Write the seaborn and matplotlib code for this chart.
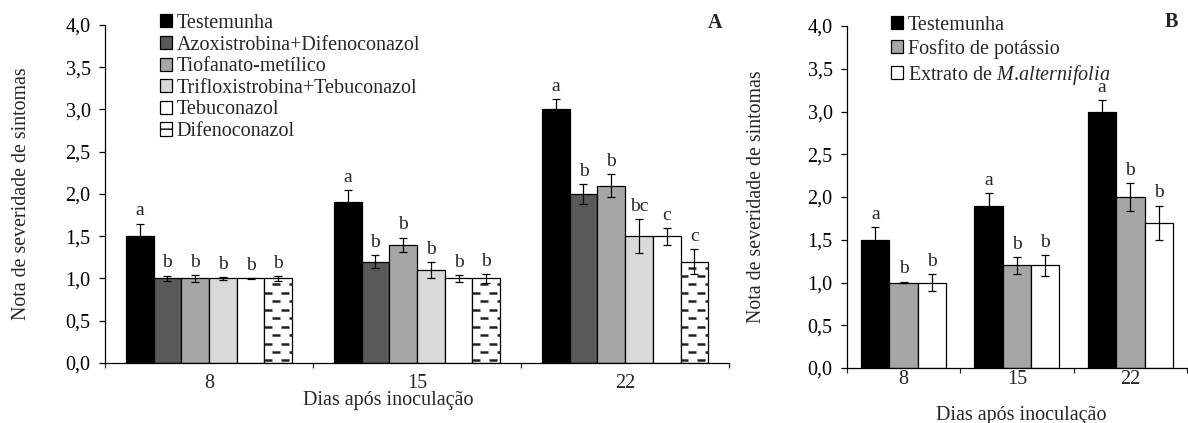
import numpy as np
import pandas as pd
import matplotlib
matplotlib.use("Agg")
import matplotlib.pyplot as plt
import seaborn as sns
from matplotlib.patches import Patch

# ---------------- data ----------------
days = ["8", "15", "22"]

treat_a = ["Testemunha", "Azoxistrobina+Difenoconazol", "Tiofanato-metílico",
           "Trifloxistrobina+Tebuconazol", "Tebuconazol", "Difenoconazol"]
a_testemunha = [1.5, 1.9, 3.0]
a_azox = [1.0, 1.2, 2.0]
a_tiof = [1.0, 1.4, 2.1]
a_triflox = [1.0, 1.1, 1.5]
a_tebu = [1.0, 1.0, 1.5]
a_difen = [1.0, 1.0, 1.2]
a_testemunha_err = [0.15, 0.15, 0.12]
a_azox_err = [0.035, 0.075, 0.12]
a_tiof_err = [0.045, 0.085, 0.14]
a_triflox_err = [0.02, 0.09, 0.2]
a_tebu_err = [0.006, 0.045, 0.1]
a_difen_err = [0.025, 0.05, 0.15]
a_testemunha_let = ["a", "a", "a"]
a_azox_let = ["b", "b", "b"]
a_tiof_let = ["b", "b", "b"]
a_triflox_let = ["b", "b", "bc"]
a_tebu_let = ["b", "b", "c"]
a_difen_let = ["b", "b", "c"]

treat_b = ["Testemunha", "Fosfito de potássio", "Extrato de $\\mathit{M.\\!alternifolia}$"]
b_testemunha = [1.5, 1.9, 3.0]
b_fosfito = [1.0, 1.2, 2.0]
b_extrato = [1.0, 1.2, 1.7]
b_testemunha_err = [0.145, 0.15, 0.13]
b_fosfito_err = [0.01, 0.1, 0.16]
b_extrato_err = [0.1, 0.12, 0.2]
b_testemunha_let = ["a", "a", "a"]
b_fosfito_let = ["b", "b", "b"]
b_extrato_let = ["b", "b", "b"]

yticks = [0.0, 0.5, 1.0, 1.5, 2.0, 2.5, 3.0, 3.5, 4.0]
ytick_labels = ["0,0", "0,5", "1,0", "1,5", "2,0", "2,5", "3,0", "3,5", "4,0"]

colors_a = ["#000000", "#595959", "#a6a6a6", "#d9d9d9", "#ffffff", "#ffffff"]
colors_b = ["#000000", "#a6a6a6", "#ffffff"]

# ---------------- style ----------------
sns.set_style("ticks")
plt.rcParams["font.family"] = ["Liberation Serif", "DejaVu Serif"]
plt.rcParams["mathtext.fontset"] = "custom"
plt.rcParams["mathtext.rm"] = "Liberation Serif"
plt.rcParams["mathtext.it"] = "Liberation Serif:italic"
FS = 14.5
FS_LET = 14

fig = plt.figure(figsize=(11.88, 4.23), dpi=100)
axA = fig.add_axes([0.08838, 0.14184, 0.5253, 0.7991])
axB = fig.add_axes([0.71296, 0.13002, 0.2862, 0.8085])


def make_df(treats, vals):
    rows = []
    for t, v in zip(treats, vals):
        for d, y in zip(days, v):
            rows.append({"dia": d, "trat": t, "nota": y})
    return pd.DataFrame(rows)


def draw_panel(ax, treats, vals, errs, lets, colors, width, hatch_idx=None):
    df = make_df(treats, vals)
    sns.barplot(data=df, x="dia", y="nota", hue="trat", order=days, hue_order=treats,
                palette=colors, saturation=1, edgecolor="black", linewidth=0.9,
                errorbar=None, width=width, ax=ax, legend=False)
    bar_conts = list(ax.containers)
    for i, cont in enumerate(bar_conts):
        for j, bar in enumerate(cont.patches):
            xc = bar.get_x() + bar.get_width() / 2
            v = vals[i][j]
            e = errs[i][j]
            ax.errorbar(xc, v, yerr=e, fmt="none", ecolor="black", elinewidth=0.9,
                        capsize=3.2, capthick=0.9, zorder=5)
            ax.annotate(lets[i][j], (xc, v + e), xytext=(0, 3), textcoords="offset points",
                        ha="center", va="bottom", fontsize=FS_LET)
            if hatch_idx is not None and i == hatch_idx:
                x0 = bar.get_x()
                w = bar.get_width()
                h = bar.get_height()
                ys = np.arange(0.03, h - 0.02, 0.1)
                for k, yy in enumerate(ys):
                    fr = [0.14, 0.74] if k % 2 == 0 else [0.43, 1.03]
                    for f in fr:
                        ln, = ax.plot([x0 + w * f], [yy], marker="_", markersize=6,
                                      mew=1.8, color="#222222", zorder=3)
                        ln.set_clip_path(bar)
    ax.set_xlim(-0.5, 2.5)
    ax.set_ylim(0, 4)
    ax.set_yticks(yticks)
    ax.set_yticklabels(ytick_labels, fontsize=FS)
    ax.set_xticks(range(len(days)))
    ax.set_xticklabels(days, fontsize=FS)
    ax.set_xticks([-0.5, 0.5, 1.5, 2.5], minor=True)
    ax.tick_params(axis="y", which="major", length=4.3, width=0.9, pad=6, colors="black")
    ax.tick_params(axis="x", which="major", length=0)
    ax.tick_params(axis="x", which="minor", length=3.5, width=0.9, direction="out")
    for s in ["top", "right"]:
        ax.spines[s].set_visible(False)
    for s in ["left", "bottom"]:
        ax.spines[s].set_linewidth(0.9)
        ax.spines[s].set_color("black")
    ax.set_ylabel("Nota de severidade de sintomas", fontsize=14.3)
    ax.set_xlabel("Dias após inoculação", fontsize=FS)
    return ax


draw_panel(axA, treat_a,
           [a_testemunha, a_azox, a_tiof, a_triflox, a_tebu, a_difen],
           [a_testemunha_err, a_azox_err, a_tiof_err, a_triflox_err, a_tebu_err, a_difen_err],
           [a_testemunha_let, a_azox_let, a_tiof_let, a_triflox_let, a_tebu_let, a_difen_let],
           colors_a, 0.8, hatch_idx=5)
draw_panel(axB, treat_b,
           [b_testemunha, b_fosfito, b_extrato],
           [b_testemunha_err, b_fosfito_err, b_extrato_err],
           [b_testemunha_let, b_fosfito_let, b_extrato_let],
           colors_b, 0.75)

axA.tick_params(axis="x", which="major", pad=8)
axB.tick_params(axis="x", which="major", pad=1.5)
axA.xaxis.set_label_coords(0.4535, -0.083)
axB.xaxis.set_label_coords(0.512, -0.112)
axA.yaxis.set_label_coords(-0.118, 0.5)
axB.yaxis.set_label_coords(-0.238, 0.5)


def legend_handles(colors, hatch_last=False):
    hs = []
    for i, c in enumerate(colors):
        hs.append(Patch(facecolor=c, edgecolor="black", linewidth=0.9,
                        hatch=("--" if (hatch_last and i == len(colors) - 1) else None)))
    return hs

legA = axA.legend(legend_handles(colors_a, True), treat_a, loc="upper left",
                  bbox_to_anchor=(160 / 1188, 1 - 14 / 423), bbox_transform=fig.transFigure,
                  frameon=False, fontsize=FS, handlelength=0.62, handleheight=0.62,
                  handletextpad=0.2, labelspacing=0.13, borderpad=0, borderaxespad=0)
legB = axB.legend(legend_handles(colors_b), treat_b, loc="upper left",
                  bbox_to_anchor=(891 / 1188, 1 - 16 / 423), bbox_transform=fig.transFigure,
                  frameon=False, fontsize=FS, handlelength=0.62, handleheight=0.62,
                  handletextpad=0.2, labelspacing=0.2, borderpad=0, borderaxespad=0)

fig.text(715 / 1188, 1 - 23 / 423, "A", fontsize=FS, fontweight="bold", ha="center", va="center")
fig.text(1171 / 1188, 1 - 22 / 423, "B", fontsize=FS, fontweight="bold", ha="center", va="center")

fig.savefig("out.png", dpi=100)
